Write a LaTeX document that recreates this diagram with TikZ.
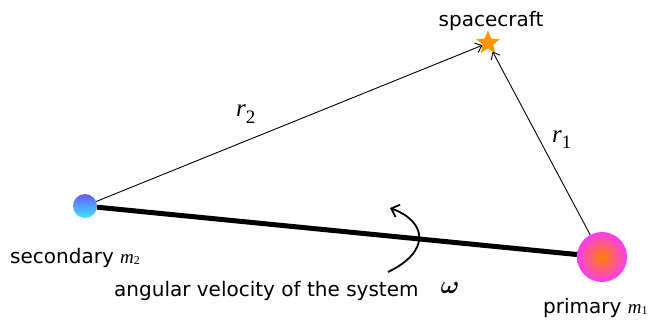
\documentclass[tikz,border=0pt]{standalone}
\usepackage{fontspec}
\usepackage{bm}
\setmainfont{DejaVu Sans}
\newfontfamily\timesfont{Liberation Serif}
\usetikzlibrary{shapes.geometric,arrows.meta}

\definecolor{ballblue}{RGB}{105,90,255}
\definecolor{ballcyan}{RGB}{60,230,255}
\definecolor{ballpink}{RGB}{250,60,240}

\begin{document}
\begin{tikzpicture}[x=1pt,y=-1pt,
    txt/.style={font=\fontsize{20}{22}\selectfont,inner sep=0pt},
    var/.style={font=\timesfont\fontsize{25}{27}\selectfont\itshape,inner sep=0pt},
    massball/.style={circle,inner sep=0pt},
    link/.style={-{Straight Barb[length=6pt,width=10pt]},line width=0.9pt}]
    \useasboundingbox (0,0) rectangle (651,321);

    % bodies
    \node[massball,minimum size=24pt,top color=ballblue,bottom color=ballcyan] (sec) at (85,206) {};
    \node[massball,minimum size=50pt,inner color=orange,outer color=ballpink] (pri) at (602,257) {};
    \node[star,star points=5,star point ratio=2.3,minimum size=25pt,inner sep=0pt,fill=orange!85!yellow] (sc) at (488,43) {};

    % connectors
    \draw[line width=5pt] (sec) -- (pri);
    \draw[link] (sec) -- (sc);
    \draw[link] (pri) -- (sc);

    % labels
    \node[txt,anchor=base] (sclab) at (491,27) {spacecraft};
    \node[var,anchor=base west] (r2lab) at (236,117) {r\raisebox{-6pt}{\upshape\fontsize{19}{19}\selectfont 2}};
    \node[var,anchor=base west] (r1lab) at (552,142) {r\raisebox{-6pt}{\upshape\fontsize{19}{19}\selectfont 1}};
    \node[txt,anchor=base west] (seclab) at (10,263) {secondary {\timesfont\itshape\fontsize{19}{19}\selectfont m}\raisebox{-1pt}{\timesfont\fontsize{12}{12}\selectfont 2}};
    \node[txt,anchor=base west] (prilab) at (543,313) {primary {\timesfont\itshape\fontsize{19}{19}\selectfont m}\raisebox{-1pt}{\timesfont\fontsize{12}{12}\selectfont 1}};
    \node[txt,anchor=base west] (omlab) at (114,296) {angular velocity of the system};
    \node[font=\fontsize{24}{26}\selectfont,inner sep=0pt,anchor=base] (om) at (450,293) {$\bm{\omega}$};

    % rotation arrow
    \coordinate (rs) at (388,272);
    \coordinate (re) at (390,208);
    \draw[line width=1.8pt,-{Straight Barb[length=7pt,width=13pt]}] (rs) .. controls (430,252) and (428,222) .. (re);
\end{tikzpicture}
\end{document}
